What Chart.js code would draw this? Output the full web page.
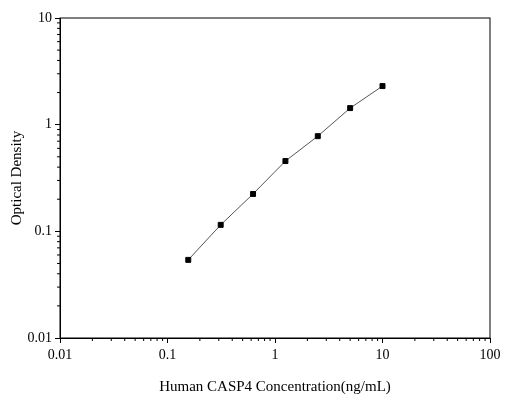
<!DOCTYPE html>
<html>
<head>
<script src="https://cdn.jsdelivr.net/npm/chart.js@4"></script>
<style>body{margin:0;background:#fff}#c{width:520px;height:400px}</style>
</head>
<body>
<div id="c"><canvas id="chart"></canvas></div>
<script>
const concentrations = [0.156, 0.3125, 0.625, 1.25, 2.5, 5, 10];
const densities = [0.054, 0.115, 0.224, 0.456, 0.78, 1.43, 2.3];
const xTicks = [0.01, 0.1, 1, 10, 100];
const yTicks = [0.01, 0.1, 1, 10];

const font = { family: "Liberation Serif", size: 14 };

// frame around the plot plus minor ticks on both log axes
const framePlugin = {
  id: "frame",
  afterDraw(chart) {
    const { ctx, chartArea: a, scales } = chart;
    ctx.save();
    ctx.strokeStyle = "#000";
    ctx.lineWidth = 1;
    ctx.strokeRect(a.left, a.top, a.right - a.left, a.bottom - a.top);
    ctx.beginPath();
    for (let d = 0.01; d < 100; d *= 10) {
      for (let m = 2; m < 10; m++) {
        const px = scales.x.getPixelForValue(d * m);
        ctx.moveTo(px, a.bottom);
        ctx.lineTo(px, a.bottom + 3);
      }
    }
    for (let d = 0.01; d < 10; d *= 10) {
      for (let m = 2; m < 10; m++) {
        const py = scales.y.getPixelForValue(d * m);
        ctx.moveTo(a.left, py);
        ctx.lineTo(a.left - 3, py);
      }
    }
    ctx.stroke();
    ctx.restore();
  },
};

new Chart(document.getElementById("chart"), {
  type: "line",
  data: {
    datasets: [{
      data: concentrations.map((x, i) => ({ x, y: densities[i] })),
      borderColor: "#555",
      borderWidth: 1,
      backgroundColor: "#000",
      pointStyle: "rect",
      pointRadius: 3.5,
      pointBorderColor: "#000",
      tension: 0,
    }],
  },
  plugins: [framePlugin],
  options: {
    responsive: true,
    maintainAspectRatio: false,
    animation: false,
    layout: { padding: { top: 18, right: 30, left: 4 } },
    plugins: { legend: { display: false }, tooltip: { enabled: false } },
    scales: {
      x: {
        type: "logarithmic",
        min: 0.01,
        max: 100,
        afterBuildTicks: (s) => { s.ticks = xTicks.map((v) => ({ value: v })); },
        afterFit: (s) => { s.height = 62; },
        ticks: { color: "#000", font, maxRotation: 0, padding: 4, callback: (v) => String(v) },
        grid: { drawOnChartArea: false, tickLength: 5, color: "#000" },
        border: { color: "#000" },
        title: { display: true, text: "Human CASP4 Concentration(ng/mL)", color: "#000", padding: { top: 0 }, font: { family: "Liberation Serif", size: 15 } },
      },
      y: {
        type: "logarithmic",
        min: 0.01,
        max: 10,
        afterBuildTicks: (s) => { s.ticks = yTicks.map((v) => ({ value: v })); },
        afterFit: (s) => { s.width = 56; },
        ticks: { color: "#000", font, callback: (v) => String(v) },
        grid: { drawOnChartArea: false, tickLength: 5, color: "#000" },
        border: { color: "#000" },
        title: { display: true, text: "Optical Density", color: "#000", font: { family: "Liberation Serif", size: 15 } },
      },
    },
  },
});
</script>
</body>
</html>
